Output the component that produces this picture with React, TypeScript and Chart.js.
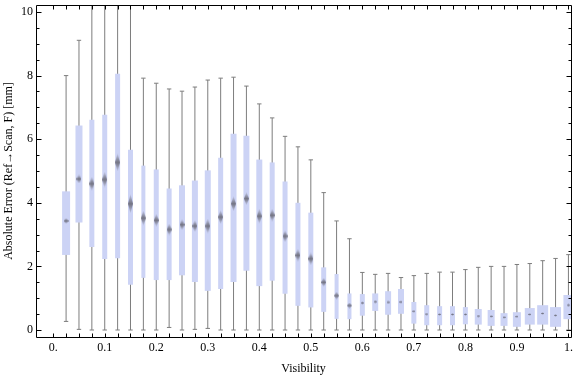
import React, { useEffect, useRef } from 'react';
import { Chart, registerables } from 'chart.js';

Chart.register(...registerables);

// ---- data ----
const visibility = [0.025, 0.05, 0.075, 0.1, 0.125, 0.15, 0.175, 0.2, 0.225, 0.25, 0.275, 0.3, 0.325, 0.35, 0.375, 0.4, 0.425, 0.45, 0.475, 0.5, 0.525, 0.55, 0.575, 0.6, 0.625, 0.65, 0.675, 0.7, 0.725, 0.75, 0.775, 0.8, 0.825, 0.85, 0.875, 0.9, 0.925, 0.95, 0.975, 1.0];
const whiskerLow = [0.27, 0.02, 0, 0, 0, 0, 0, 0, 0.08, 0, 0.02, 0.05, 0, 0, 0, 0, 0, 0, 0, 0, 0, 0, 0, 0, 0, 0, 0, 0, 0, 0, 0, 0, 0, 0, 0, 0, 0, 0, 0, 0];
const q1 = [2.36, 3.38, 2.61, 2.23, 2.26, 1.42, 1.64, 1.57, 1.57, 1.72, 1.51, 1.23, 1.29, 1.51, 1.86, 1.38, 1.55, 1.14, 0.76, 0.71, 0.57, 0.35, 0.34, 0.45, 0.6, 0.48, 0.51, 0.2, 0.15, 0.15, 0.15, 0.18, 0.17, 0.13, 0.13, 0.1, 0.17, 0.17, 0.1, 0.34];
const median = [3.43, 4.75, 4.6, 4.73, 5.27, 3.97, 3.52, 3.45, 3.16, 3.31, 3.27, 3.27, 3.55, 3.97, 4.13, 3.58, 3.61, 2.95, 2.35, 2.24, 1.5, 1.08, 0.77, 0.85, 0.89, 0.87, 0.88, 0.59, 0.5, 0.49, 0.49, 0.49, 0.44, 0.43, 0.4, 0.42, 0.49, 0.52, 0.46, 0.78];
const q3 = [4.36, 6.43, 6.61, 6.77, 8.06, 5.67, 5.17, 5.05, 4.45, 4.55, 4.7, 5.02, 5.42, 6.17, 6.11, 5.36, 5.27, 4.67, 4.0, 3.69, 1.97, 1.76, 1.15, 1.13, 1.15, 1.22, 1.29, 0.88, 0.78, 0.75, 0.75, 0.72, 0.66, 0.63, 0.53, 0.56, 0.69, 0.78, 0.72, 1.1];
const whiskerHigh = [8.0, 9.11, 11.5, 12.0, 13.0, 11.0, 7.92, 7.76, 7.58, 7.51, 7.64, 7.86, 7.92, 7.95, 7.67, 7.11, 6.67, 6.09, 5.76, 5.35, 4.32, 3.43, 2.87, 1.81, 1.75, 1.78, 1.65, 1.71, 1.78, 1.82, 1.82, 1.9, 1.97, 2.0, 2.0, 2.06, 2.09, 2.18, 2.25, 2.37];
// half-height of the median confidence marker, in data units
const medianCI = [0.09, 0.14, 0.22, 0.25, 0.28, 0.3, 0.24, 0.2, 0.19, 0.17, 0.19, 0.24, 0.22, 0.24, 0.2, 0.24, 0.2, 0.19, 0.2, 0.2, 0.14, 0.12, 0.09, 0.06, 0.06, 0.06, 0.06, 0.04, 0.04, 0.04, 0.04, 0.04, 0.04, 0.04, 0.04, 0.04, 0.04, 0.04, 0.04, 0.06];

const xTickValues = [0, 0.1, 0.2, 0.3, 0.4, 0.5, 0.6, 0.7, 0.8, 0.9, 1.0];
const xTickLabels = ['0.', '0.1', '0.2', '0.3', '0.4', '0.5', '0.6', '0.7', '0.8', '0.9', '1.'];
const yTickValues = [0, 2, 4, 6, 8, 10];
const yTickLabels = ['0', '2', '4', '6', '8', '10'];

// ---- styles ----
const BOX_WIDTHS = [8, 7, 5, 5, 5, 5, 4, 5, 5, 6, 6, 6, 5, 6, 6, 6, 5, 5, 5, 5, 5, 4, 4, 5, 6, 6, 6, 5, 5, 5, 5, 5, 7, 7, 7, 8, 10, 11, 11, 10];
const BOX_COLOR = 'rgb(204,211,245)';
const WHISKER_COLOR = 'rgb(125,125,125)';
const FONT = { family: '"Liberation Serif", "DejaVu Serif", serif', size: 12 };

const diamondCache: Record<string, HTMLCanvasElement> = {};
function makeDiamond(half: number): HTMLCanvasElement {
  const h = Math.max(2, Math.round(half * 2));
  const w = half > 2.5 ? 5 : 3;
  const key = w + 'x' + h;
  if (diamondCache[key]) return diamondCache[key];
  const c = document.createElement('canvas');
  c.width = w;
  c.height = h;
  const g = c.getContext('2d')!;
  const grad = g.createLinearGradient(0, 0, 0, h);
  grad.addColorStop(0, 'rgba(105,105,118,0.1)');
  grad.addColorStop(0.5, 'rgba(105,105,118,0.9)');
  grad.addColorStop(1, 'rgba(105,105,118,0.1)');
  g.fillStyle = grad;
  g.beginPath();
  g.moveTo(w / 2, 0);
  g.lineTo(w, h / 2);
  g.lineTo(w / 2, h);
  g.lineTo(0, h / 2);
  g.closePath();
  g.fill();
  diamondCache[key] = c;
  return c;
}

const framePlugin = {
  id: 'frameTicks',
  afterDatasetsDraw(chart: any) {
    const { ctx, chartArea: a, scales } = chart;
    const xs = scales.x;
    const ys = scales.y;
    ctx.save();
    ctx.strokeStyle = '#000';
    ctx.lineWidth = 1;
    const L = Math.round(a.left) + 0.5;
    const R = Math.round(a.right) + 0.5;
    const T = Math.round(a.top) + 0.5;
    const B = Math.round(a.bottom) + 0.5;
    ctx.beginPath();
    ctx.rect(L, T, R - L, B - T);
    ctx.stroke();
    ctx.beginPath();
    const xTickPos = [0, ...visibility];
    for (const v of xTickPos) {
      const px = Math.round(xs.getPixelForValue(v)) + 0.5;
      ctx.moveTo(px, B);
      ctx.lineTo(px, B - 4);
      ctx.moveTo(px, T);
      ctx.lineTo(px, T + 4);
    }
    for (let k = 0; k <= 20; k++) {
      const v = k * 0.5;
      const len = v % 2 === 0 ? 5 : 3;
      const py = Math.round(ys.getPixelForValue(v)) + 0.5;
      ctx.moveTo(L, py);
      ctx.lineTo(L + len, py);
      ctx.moveTo(R, py);
      ctx.lineTo(R - len, py);
    }
    ctx.stroke();
    ctx.restore();
  },
};

export default function App() {
  const ref = useRef<HTMLCanvasElement>(null);
  useEffect(() => {
    const widthGroups = Array.from(new Set(BOX_WIDTHS));
    const boxDatasets = widthGroups.map((w) => ({
      type: 'bar' as const,
      label: 'box' + w,
      data: visibility
        .map((v, i) => ({ x: v, y: [q1[i], q3[i]], w: BOX_WIDTHS[i] }))
        .filter((d) => d.w === w),
      backgroundColor: BOX_COLOR,
      borderWidth: 0,
      inflateAmount: 0,
      barThickness: w,
      grouped: false,
      order: 2,
    }));
    const chart = new Chart(ref.current!, {
      type: 'bar',
      data: {
        datasets: [
          {
            type: 'scatter',
            label: 'median',
            data: visibility.map((v, i) => ({ x: v, y: median[i] })),
            pointRadius: 3,
            pointStyle: (c: any) => {
              const i = c.dataIndex;
              const ys = c.chart && c.chart.scales && c.chart.scales.y;
              if (i === undefined || !ys) return 'circle';
              const ppu = Math.abs(ys.getPixelForValue(0) - ys.getPixelForValue(1));
              const half = medianCI[i] * ppu;
              if (!isFinite(half) || half <= 0) return 'circle';
              return makeDiamond(half);
            },
            order: 1,
          } as any,
          ...boxDatasets,
          {
            type: 'scatter',
            label: 'caps',
            data: [
              ...visibility.map((v, i) => ({ x: v, y: whiskerLow[i] })),
              ...visibility.map((v, i) => ({ x: v, y: whiskerHigh[i] })),
            ],
            pointStyle: 'line',
            pointRadius: 2.2,
            borderColor: WHISKER_COLOR,
            borderWidth: 1,
            order: 3,
          } as any,
          {
            type: 'bar',
            label: 'whisker',
            data: visibility.map((v, i) => ({ x: v, y: [whiskerLow[i], whiskerHigh[i]] })),
            backgroundColor: WHISKER_COLOR,
            borderWidth: 0,
            inflateAmount: 0,
            barThickness: 1,
            grouped: false,
            order: 4,
          } as any,
        ],
      },
      options: {
        responsive: false,
        animation: false,
        events: [],
        layout: { padding: { top: 4, right: 2, left: 0, bottom: 0 } },
        plugins: { legend: { display: false }, tooltip: { enabled: false } },
        scales: {
          x: {
            type: 'linear',
            min: -0.0334,
            max: 1.005,
            offset: false,
            grid: { display: false, drawTicks: false },
            border: { display: false },
            ticks: {
              font: FONT,
              color: '#000',
              padding: 4,
              maxRotation: 0,
              autoSkip: false,
              callback: (_v: any, idx: number) => xTickLabels[idx],
            },
            title: { display: true, text: 'Visibility', font: FONT, color: '#000', padding: { top: 0, bottom: 1 } },
            afterBuildTicks: (s: any) => {
              s.ticks = xTickValues.map((v) => ({ value: v }));
            },
            afterFit: (s: any) => {
              s.height = 40;
              s.paddingLeft = 0;
              s.paddingRight = 0;
            },
          },
          y: {
            type: 'linear',
            min: -0.22,
            max: 10.22,
            grid: { display: false, drawTicks: false },
            border: { display: false },
            ticks: {
              font: FONT,
              color: '#000',
              padding: 3,
              callback: (_v: any, idx: number) => yTickLabels[idx],
            },
            title: {
              display: true,
              text: 'Absolute Error (Ref\u2192Scan, F) [mm]',
              font: FONT,
              color: '#000',
              padding: { top: 2, bottom: 0 },
            },
            afterBuildTicks: (s: any) => {
              s.ticks = yTickValues.map((v) => ({ value: v }));
            },
            afterFit: (s: any) => {
              s.width = 36;
              s.paddingTop = 0;
              s.paddingBottom = 0;
            },
          },
        },
      } as any,
      plugins: [framePlugin],
    });
    return () => chart.destroy();
  }, []);
  return (
    <div style={{ position: 'absolute', left: 0, top: 0, width: 576, height: 377, background: '#fff' }}>
      <canvas ref={ref} width={576} height={377} style={{ display: 'block' }} />
    </div>
  );
}
